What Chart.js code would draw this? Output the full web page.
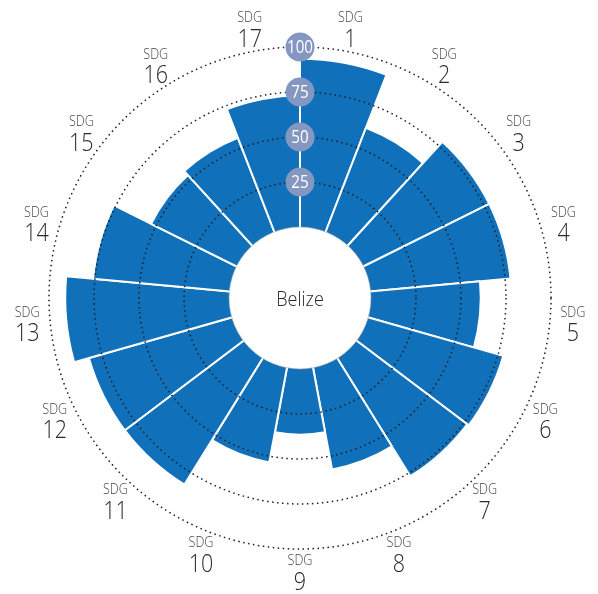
<!DOCTYPE html>
<html>
<head>
<meta charset="utf-8">
<script src="https://cdn.jsdelivr.net/npm/chart.js@4.4.1/dist/chart.umd.min.js"></script>
<style>
  html, body { margin: 0; padding: 0; background: #fff; }
  #wrap { width: 598px; height: 594px; }
</style>
</head>
<body>
<div id="wrap"><canvas id="chart"></canvas></div>
<script>
// data
const country = 'Belize';
const goalPrefix = 'SDG';
const goals = ['1', '2', '3', '4', '5', '6', '7', '8', '9', '10', '11', '12', '13', '14', '15', '16', '17'];
const scores = [93.5, 62, 78, 78, 61, 78, 77, 57.5, 36.5, 53.5, 82.5, 82.5, 91, 76, 53, 56, 73];
const ringTicks = [25, 50, 75, 100];

const BAR = '#1170ba';
const FONT = '"Open Sans", "Noto Sans", sans-serif';

function drawText(ctx, text, x, y, size, color, squeeze, weight) {
    ctx.save();
    ctx.translate(x, y);
    ctx.scale(squeeze, 1);
    ctx.font = (weight || 300) + ' ' + size + 'px ' + FONT;
    ctx.fillStyle = color;
    ctx.textAlign = 'center';
    ctx.textBaseline = 'middle';
    ctx.fillText(text, 0, 0);
    ctx.restore();
}

// white hole in the middle with the country name
const holePlugin = {
    id: 'hole',
    afterDatasetsDraw(chart) {
        const r = chart.scales.r;
        const ctx = chart.ctx;
        const rad = r.getDistanceFromCenterForValue(0);
        ctx.save();
        ctx.beginPath();
        ctx.arc(r.xCenter, r.yCenter, rad, 0, Math.PI * 2);
        ctx.fillStyle = '#fff';
        ctx.fill();
        ctx.lineWidth = 0.6;
        ctx.strokeStyle = '#b0b0b0';
        ctx.stroke();
        ctx.restore();
        drawText(ctx, country, r.xCenter, r.yCenter + 2, 21, '#2a2a2a', 0.86);
    }
};

// value badges on the top spoke + SDG labels round the outside
const labelsPlugin = {
    id: 'sdgLabels',
    afterDraw(chart) {
        const r = chart.scales.r;
        const ctx = chart.ctx;
        ringTicks.forEach(v => {
            const y = r.yCenter - r.getDistanceFromCenterForValue(v);
            ctx.save();
            ctx.beginPath();
            ctx.arc(r.xCenter, y, 14.5, 0, Math.PI * 2);
            ctx.fillStyle = '#8497c1';
            ctx.fill();
            ctx.restore();
            drawText(ctx, String(v), r.xCenter, y + 1, 19, '#fff', 0.8, 400);
        });
        goals.forEach((g, i) => {
            const p = r.getPointPosition(i, 274, Math.PI / goals.length);
            drawText(ctx, goalPrefix, p.x, p.y - 10.5, 14, '#444', 0.9);
            drawText(ctx, g, p.x, p.y + 11, 25, '#2a2a2a', 0.86);
        });
    }
};

new Chart(document.getElementById('chart'), {
    type: 'polarArea',
    data: {
        labels: goals.map(g => goalPrefix + ' ' + g),
        datasets: [{
            data: scores,
            backgroundColor: BAR,
            borderColor: '#fff',
            borderWidth: 2
        }]
    },
    options: {
        responsive: true,
        maintainAspectRatio: false,
        animation: false,
        layout: { padding: { left: 49, right: 47, top: 47, bottom: 45 } },
        plugins: { legend: { display: false }, tooltip: { enabled: false } },
        scales: {
            r: {
                min: -39.4,
                max: 100,
                startAngle: 0,
                afterBuildTicks: scale => {
                    scale.ticks = [scale.min].concat(ringTicks).map(v => ({ value: v }));
                },
                ticks: { display: false, z: 1 },
                angleLines: { display: false },
                pointLabels: { display: false },
                grid: {
                    z: 1, // dotted rings go over the bars
                    circular: true,
                    color: ctx => ctx.tick && ctx.tick.value < 0 ? 'rgba(0,0,0,0)' : '#1e1e1e',
                    lineWidth: 1.5
                },
                border: { dash: [1.5, 3.5] }
            }
        }
    },
    plugins: [holePlugin, labelsPlugin]
});
</script>
</body>
</html>
